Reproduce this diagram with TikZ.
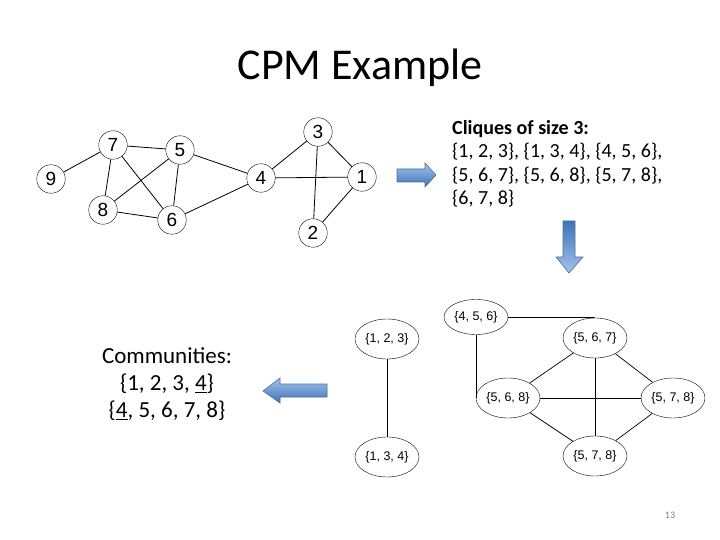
\documentclass[tikz,border=0pt]{standalone}
\usepackage{fontspec}
\setmainfont{Carlito}
\newfontfamily\arialfont{Liberation Sans}
\usetikzlibrary{shapes.geometric}

\definecolor{arrowdark}{HTML}{3E72B8}
\definecolor{arrowlight}{HTML}{A3C4EE}
\definecolor{arrowedge}{HTML}{4D6F99}

\begin{document}
\begin{tikzpicture}[x=1pt,y=-1pt]
                    \tikzstyle{vertex}=[draw=black, circle, minimum size=28.5pt, inner sep=0pt, font=\arialfont\fontsize{19}{19}\selectfont]
                    \tikzstyle{clique}=[draw=black, ellipse, minimum width=64pt, minimum height=40pt, inner sep=0pt, font=\arialfont\fontsize{12.5}{12.5}\selectfont]
                    \tikzstyle{link}=[draw=black, line width=0.8pt]
                    \tikzstyle{thin link}=[draw=black, line width=0.7pt]
                    \tikzstyle{blockarrow}=[draw=arrowedge, line width=0.6pt, line join=miter]
                    \fill [white] (0,0) rectangle (720,540);
                    \useasboundingbox (0,0) rectangle (720,540);
                    \node (title) at (360,68) {\fontsize{44}{44}\selectfont CPM Example};
                    % input graph
                    \node [vertex] (v9) at (51,179) {9};
                    \node [vertex] (v7) at (113,145) {7};
                    \node [vertex] (v5) at (180,150) {5};
                    \node [vertex] (v8) at (103,210) {8};
                    \node [vertex] (v6) at (172,220) {6};
                    \node [vertex] (v4) at (261,178) {4};
                    \node [vertex] (v3) at (318,132) {3};
                    \node [vertex] (v1) at (362,177) {1};
                    \node [vertex] (v2) at (313,233) {2};
                    \draw [link] (v9) -- (v7);
                    \draw [link] (v7) -- (v5);
                    \draw [link] (v7) -- (v8);
                    \draw [link] (v7) -- (v6);
                    \draw [link] (v5) -- (v8);
                    \draw [link] (v5) -- (v6);
                    \draw [link] (v5) -- (v4);
                    \draw [link] (v8) -- (v6);
                    \draw [link] (v6) -- (v4);
                    \draw [link] (v4) -- (v3);
                    \draw [link] (v4) -- (v1);
                    \draw [link] (v3) -- (v1);
                    \draw [link] (v3) -- (v2);
                    \draw [link] (v1) -- (v2);
                    % cliques
                    \node [anchor=north west, align=left, inner sep=0pt, font=\fontsize{20}{23.5}\selectfont] (cliquetext) at (452,120)
                        {\textbf{Cliques of size 3:}\\ \{1, 2, 3\}, \{1, 3, 4\}, \{4, 5, 6\},\\ \{5, 6, 7\}, \{5, 6, 8\}, \{5, 7, 8\},\\ \{6, 7, 8\}};
                    \draw [blockarrow, top color=arrowlight, bottom color=arrowdark]
                        (397,169) -- (425,169) -- (425,163) -- (436,175) -- (425,187) -- (425,182) -- (397,182) -- cycle;
                    \draw [blockarrow, top color=arrowdark, bottom color=arrowlight]
                        (563,221) -- (575,221) -- (575,257) -- (583,257) -- (569,273) -- (556,257) -- (563,257) -- cycle;
                    % clique graph
                    \node [clique] (c123) at (387,339) {\{1, 2, 3\}};
                    \node [clique] (c134) at (387,457) {\{1, 3, 4\}};
                    \node [clique, minimum height=35pt] (c456) at (476,317) {\{4, 5, 6\}};
                    \node [clique] (c567) at (595,338) {\{5, 6, 7\}};
                    \node [clique] (c568) at (508,398) {\{5, 6, 8\}};
                    \node [clique] (c578r) at (673,398) {\{5, 7, 8\}};
                    \node [clique] (c578b) at (595,456) {\{5, 7, 8\}};
                    \draw [thin link] (c123) -- (c134);
                    \draw [thin link] (c456.east) -- (c456.east -| c567.north);
                    \draw [thin link] (c456.south) -- (c456.south |- c568.west);
                    \draw [thin link] (c567) -- (c568);
                    \draw [thin link] (c567) -- (c578r);
                    \draw [thin link] (c567) -- (c578b);
                    \draw [thin link] (c568) -- (c578r);
                    \draw [thin link] (c568) -- (c578b);
                    \draw [thin link] (c578r) -- (c578b);
                    % communities
                    \draw [blockarrow, top color=arrowlight, bottom color=arrowdark]
                        (327,384) -- (280,384) -- (280,378) -- (263,391) -- (280,403) -- (280,397) -- (327,397) -- cycle;
                    \node [align=center, inner sep=0pt, font=\fontsize{23}{27}\selectfont] (communities) at (167,384)
                        {Communities:\\ \{1, 2, 3, \underline{4}\}\\ \{\underline{4}, 5, 6, 7, 8\}};
                    \node [text=gray, font=\fontsize{10}{10}\selectfont] (pagenum) at (670,515) {13};
\end{tikzpicture}
\end{document}
